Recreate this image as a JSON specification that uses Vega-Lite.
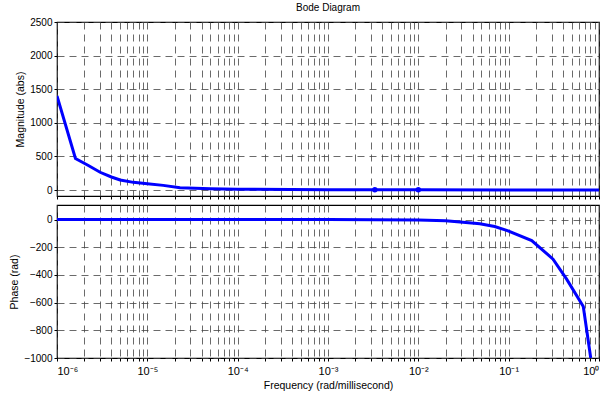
{
  "$schema": "https://vega.github.io/schema/vega-lite/v6.json",
  "background": "white",
  "padding": {"left": 9, "top": 2, "right": 10, "bottom": 4},
  "spacing": 3,
  "config": {
    "font": "Liberation Sans",
    "view": {"stroke": "black", "strokeWidth": 1.2},
    "axis": {
      "labelFont": "Liberation Sans", "labelFontSize": 10, "labelColor": "black",
      "titleFont": "Liberation Sans", "titleFontSize": 10.5, "titleFontWeight": "normal", "titleColor": "black",
      "grid": true, "gridColor": "#444444", "gridDash": [7, 5], "gridWidth": 0.8, "gridOpacity": 1,
      "domain": false, "tickColor": "black", "tickSize": 3, "labelPadding": 2, "labelOverlap": false
    }
  },
  "datasets": {
    "mag": [
      {"f": 1e-6, "v": 1400, "k": "line"}, {"f": 1.6e-6, "v": 470, "k": "line"}, {"f": 2.2e-6, "v": 370, "k": "line"}, {"f": 3e-6, "v": 265, "k": "line"},
      {"f": 4e-6, "v": 195, "k": "line"}, {"f": 5e-6, "v": 150, "k": "line"}, {"f": 7e-6, "v": 115, "k": "line"}, {"f": 1e-5, "v": 95, "k": "line"},
      {"f": 1.5e-5, "v": 70, "k": "line"}, {"f": 2.3e-5, "v": 34, "k": "line"}, {"f": 5e-5, "v": 18, "k": "line"}, {"f": 1e-4, "v": 12, "k": "line"},
      {"f": 1e-3, "v": 6, "k": "line"}, {"f": 3.3e-3, "v": 5, "k": "line"}, {"f": 1e-2, "v": 4, "k": "line"}, {"f": 1e-1, "v": 3, "k": "line"}, {"f": 1, "v": 3, "k": "line"},
      {"f": 3.3e-3, "v": 5, "k": "dot"}, {"f": 1e-2, "v": 4, "k": "dot"}
    ],
    "phase": [
      {"f": 1e-6, "v": 0}, {"f": 1e-4, "v": 0}, {"f": 1e-3, "v": -0.5}, {"f": 3.3e-3, "v": -1},
      {"f": 1e-2, "v": -3}, {"f": 0.02, "v": -8}, {"f": 0.029, "v": -18}, {"f": 0.048, "v": -30},
      {"f": 0.07, "v": -50}, {"f": 0.095, "v": -78}, {"f": 0.18, "v": -152}, {"f": 0.31, "v": -286},
      {"f": 0.44, "v": -432}, {"f": 0.67, "v": -628}, {"f": 0.81, "v": -1000}
    ]
  },
  "vconcat": [
    {
      "width": 542, "height": 174,
      "title": {"text": "Bode Diagram", "fontSize": 10, "fontWeight": "normal", "font": "Liberation Sans", "offset": 4},
      "data": {"name": "mag"},
      "encoding": {
        "x": {"field": "f", "type": "quantitative",
              "scale": {"type": "log", "domain": [1e-6, 1], "nice": false},
              "axis": {"title": null, "labels": false,
                       "values": [1e-6,2e-6,3e-6,4e-6,5e-6,6e-6,7e-6,8e-6,9e-6,1e-5,2e-5,3e-5,4e-5,5e-5,6e-5,7e-5,8e-5,9e-5,1e-4,2e-4,3e-4,4e-4,5e-4,6e-4,7e-4,8e-4,9e-4,1e-3,2e-3,3e-3,4e-3,5e-3,6e-3,7e-3,8e-3,9e-3,1e-2,2e-2,3e-2,4e-2,5e-2,6e-2,7e-2,8e-2,9e-2,0.1,0.2,0.3,0.4,0.5,0.6,0.7,0.8,0.9,1]}},
        "y": {"field": "v", "type": "quantitative",
              "scale": {"domain": [-88, 2500], "nice": false, "zero": false},
              "axis": {"title": "Magnitude (abs)", "values": [0, 500, 1000, 1500, 2000, 2500], "format": "d", "titlePadding": 4, "labelOverlap": false, "labelFlush": false}}
      },
      "layer": [
        {
          "transform": [{"filter": "datum.k === 'line'"}],
          "mark": {"type": "line", "color": "#0000ff", "strokeWidth": 3, "clip": true}
        },
        {
          "transform": [{"filter": "datum.k === 'dot'"}],
          "mark": {"type": "point", "filled": true, "color": "#0000ff", "size": 30, "opacity": 1}
        }
      ]
    },
    {
      "width": 542, "height": 153,
      "data": {"name": "phase"},
      "mark": {"type": "line", "color": "#0000ff", "strokeWidth": 3, "clip": true},
      "encoding": {
        "x": {"field": "f", "type": "quantitative",
              "scale": {"type": "log", "domain": [1e-6, 1], "nice": false},
              "axis": {"title": "Frequency  (rad/millisecond)", "titlePadding": 4,
                       "values": [1e-6,2e-6,3e-6,4e-6,5e-6,6e-6,7e-6,8e-6,9e-6,1e-5,2e-5,3e-5,4e-5,5e-5,6e-5,7e-5,8e-5,9e-5,1e-4,2e-4,3e-4,4e-4,5e-4,6e-4,7e-4,8e-4,9e-4,1e-3,2e-3,3e-3,4e-3,5e-3,6e-3,7e-3,8e-3,9e-3,1e-2,2e-2,3e-2,4e-2,5e-2,6e-2,7e-2,8e-2,9e-2,0.1,0.2,0.3,0.4,0.5,0.6,0.7,0.8,0.9,1],
                       "labelExpr": "abs(log(datum.value)/LN10 - round(log(datum.value)/LN10)) < 0.001 ? ['10⁻⁶','10⁻⁵','10⁻⁴','10⁻³','10⁻²','10⁻¹','10⁰'][round(log(datum.value)/LN10)+6] : ''",
                       "labelFontSize": 11, "labelPadding": 4}},
        "y": {"field": "v", "type": "quantitative",
              "scale": {"domain": [-1000, 105], "nice": false, "zero": false},
              "axis": {"title": "Phase (rad)", "values": [0, -200, -400, -600, -800, -1000], "format": "d", "titlePadding": 4}}
      }
    }
  ]
}
